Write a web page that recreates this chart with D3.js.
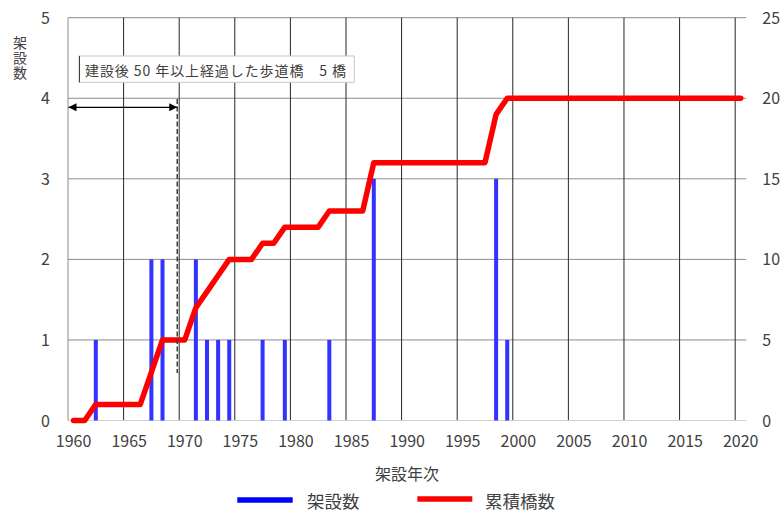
<!DOCTYPE html>
<html><head><meta charset="utf-8">
<script src="https://cdn.jsdelivr.net/npm/d3@7"></script>
<style>
html,body{margin:0;padding:0;background:#fff;}
text{font-family:"Noto Sans CJK JP","Noto Sans",sans-serif;fill:#404040;}
</style></head>
<body>
<svg id="chart" width="784" height="512"></svg>
<script>
// ---- data ----
const years = d3.range(1960, 2021);
const builtYears = [1962, 1967, 1968, 1971, 1972, 1973, 1974, 1977, 1979, 1983, 1987, 1998, 1999];
const builtCounts = [1, 2, 2, 2, 1, 1, 1, 1, 1, 1, 3, 3, 1];
const cumulative = [0,0,1,1,1,1,1,3,5,5,5,7,8,9,10,10,10,11,11,12,12,12,12,13,13,13,13,16,16,16,16,16,16,16,16,16,16,16,19,20,20,20,20,20,20,20,20,20,20,20,20,20,20,20,20,20,20,20,20,20,20];
const leftTicks = [0, 1, 2, 3, 4, 5];
const rightTicks = [0, 5, 10, 15, 20, 25];
const xTickLabels = [1960,1965,1970,1975,1980,1985,1990,1995,2000,2005,2010,2015,2020];
const seriesNames = ["架設数", "累積橋数"];
const annotationText = "建設後 50 年以上経過した歩道橋\u30005 橋";
const annotationYear = 1969;

const svg = d3.select("#chart");
const L = 68, R = 746.3, T = 17.7, B = 420.5;

const x = d3.scaleBand().domain(years).range([L, R]).padding(0);
const bw = x.bandwidth();
const cx = d => x(d) + bw / 2;
const yL = d3.scaleLinear().domain([0, 5]).range([B, T]);
const yR = d3.scaleLinear().domain([0, 25]).range([B, T]);

// horizontal gridlines
svg.append("g").selectAll("line").data(leftTicks.filter(d => d > 0)).join("line")
  .attr("x1", L).attr("x2", R).attr("y1", d => yL(d)).attr("y2", d => yL(d))
  .attr("stroke", "#8c8c8c").attr("stroke-width", 1);
// vertical gridlines (category boundaries every 5 years)
svg.append("g").selectAll("line").data(xTickLabels.slice(1)).join("line")
  .attr("x1", d => x(d)).attr("x2", d => x(d))
  .attr("y1", T).attr("y2", B)
  .attr("stroke", "#262626").attr("stroke-width", 1);
// axes lines
svg.append("line").attr("x1", L).attr("x2", L).attr("y1", T).attr("y2", B)
  .attr("stroke", "#8c8c8c").attr("stroke-width", 1);
svg.append("line").attr("x1", L).attr("x2", R).attr("y1", B).attr("y2", B)
  .attr("stroke", "#d0d0d0").attr("stroke-width", 1.2);

// bars
const barData = builtYears.map((yr, i) => ({yr, v: builtCounts[i]}));
svg.append("g").selectAll("rect").data(barData).join("rect")
  .attr("x", d => cx(d.yr) - 2).attr("width", 4)
  .attr("y", d => yL(d.v)).attr("height", d => yL(0) - yL(d.v))
  .attr("fill", "#3333ff");

// cumulative line
const line = d3.line().x((d, i) => cx(years[i])).y(d => yR(d));
svg.append("path").datum(cumulative).attr("d", line)
  .attr("fill", "none").attr("stroke", "#ff0000").attr("stroke-width", 5.5)
  .attr("stroke-linejoin", "round").attr("stroke-linecap", "round");

// left axis
const gl = svg.append("g").attr("transform", `translate(${L},0)`)
  .call(d3.axisLeft(yL).tickValues(leftTicks).tickSize(0).tickPadding(18).tickFormat(d3.format("d")));
gl.select(".domain").remove();
gl.selectAll("text").style("font-size", "16px").attr("fill", "#404040").attr("dy", "0.35em");
// right axis
const gr = svg.append("g").attr("transform", `translate(${R},0)`)
  .call(d3.axisRight(yR).tickValues(rightTicks).tickSize(0).tickPadding(16).tickFormat(d3.format("d")));
gr.select(".domain").remove();
gr.selectAll("text").style("font-size", "16px").attr("fill", "#404040").attr("dy", "0.35em");
// bottom axis
const gb = svg.append("g").attr("transform", `translate(0,${B})`)
  .call(d3.axisBottom(x).tickValues(xTickLabels).tickSize(0).tickPadding(15));
gb.select(".domain").remove();
gb.selectAll("text").style("font-size", "16px").attr("fill", "#404040").attr("dy", "0.71em");

// axis titles
svg.append("text").attr("x", 407).attr("y", 473).attr("text-anchor", "middle")
  .attr("dominant-baseline", "central").style("font-size", "16px").text("架設年次");
svg.append("text").attr("x", 20).attr("y", 36)
  .style("writing-mode", "vertical-rl").style("text-orientation", "upright")
  .style("font-size", "14px").style("letter-spacing", "1px").text("架設数");

// annotation dashed line + arrow
const ax = cx(annotationYear) + 3.6;
svg.append("line").attr("x1", ax).attr("x2", ax).attr("y1", 99).attr("y2", 373)
  .attr("stroke", "#404040").attr("stroke-width", 1.5).attr("stroke-dasharray", "5,2.5");
const defs = svg.append("defs");
defs.append("marker").attr("id", "ah").attr("viewBox", "0 0 10 10").attr("refX", 10).attr("refY", 5)
  .attr("markerWidth", 10).attr("markerHeight", 8).attr("markerUnits", "userSpaceOnUse").attr("orient", "auto-start-reverse")
  .append("path").attr("d", "M0,0L10,5L0,10Z").attr("fill", "#000");
svg.append("line").attr("x1", L + 0.5).attr("x2", ax).attr("y1", 107.3).attr("y2", 107.3)
  .attr("stroke", "#000").attr("stroke-width", 1.3)
  .attr("marker-start", "url(#ah)").attr("marker-end", "url(#ah)");

// annotation box
svg.append("rect").attr("x", 79).attr("y", 56).attr("width", 275.3).attr("height", 26.3)
  .attr("fill", "#fff").attr("stroke", "#c8c8c8").attr("stroke-width", 1);
svg.append("line").attr("x1", 79.5).attr("x2", 79.5).attr("y1", 56).attr("y2", 82.3)
  .attr("stroke", "#404040").attr("stroke-width", 1);
svg.append("text").attr("x", 85).attr("y", 69.5).attr("dominant-baseline", "central")
  .attr("textLength", 261).attr("lengthAdjust", "spacing")
  .style("font-size", "14px").text(annotationText);

// legend
const lg = svg.append("g");
const legendItems = [
  {name: seriesNames[0], color: "#0000ff", x1: 237.3, x2: 292.7, y: 500, tx: 307},
  {name: seriesNames[1], color: "#ff0000", x1: 417.3, x2: 472.3, y: 499, tx: 485}
];
legendItems.forEach(it => {
  lg.append("line").attr("x1", it.x1).attr("x2", it.x2).attr("y1", it.y).attr("y2", it.y)
    .attr("stroke", it.color).attr("stroke-width", 5.5);
  lg.append("text").attr("x", it.tx).attr("y", 500).attr("dominant-baseline", "central")
    .style("font-size", "17.5px").text(it.name);
});
</script>
</body></html>
